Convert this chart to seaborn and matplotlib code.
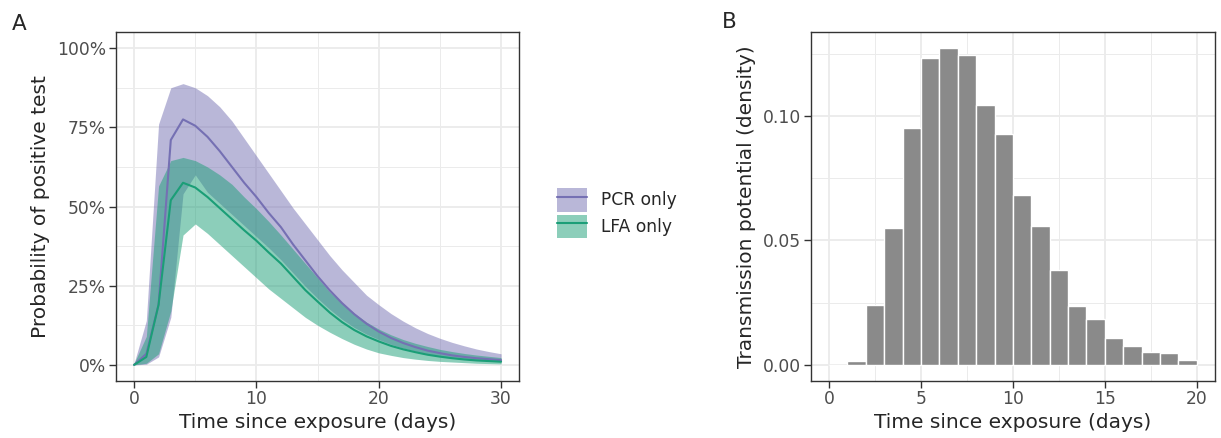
import numpy as np
import pandas as pd
import matplotlib
matplotlib.use("Agg")
import matplotlib.pyplot as plt
import seaborn as sns
from matplotlib.patches import Patch
from matplotlib.lines import Line2D
from matplotlib.ticker import PercentFormatter, FormatStrFormatter

# ---- data ----
days = list(range(31))

# probability of positive test, in %
pcr_med = [0, 3.5, 19, 71, 77.5, 75.5, 72, 67.5, 62.5, 57.5, 53, 48, 43.5, 38, 33, 28,
           23.5, 19.5, 16, 13, 10.5, 8.5, 6.9, 5.6, 4.5, 3.7, 3.0, 2.5, 2.1, 1.8, 1.5]
pcr_lo = [0, 0.2, 2.5, 15, 54, 60, 54.5, 51, 47.5, 44, 40.5, 37, 33.2, 29, 24.8, 21,
          17.5, 14.4, 11.8, 9.7, 8, 6.5, 5.3, 4.3, 3.5, 2.8, 2.3, 1.9, 1.6, 1.3, 1.1]
pcr_hi = [0.5, 14, 76, 87.5, 88.8, 87.5, 85, 81.5, 77, 71.5, 66, 60.5, 55, 49.5, 44.5, 39.5,
          34.5, 30, 26, 22, 19, 16.2, 13.8, 11.7, 9.9, 8.4, 7.1, 6.0, 5.0, 4.2, 3.5]

lfa_med = [0, 2.5, 19, 52, 57.5, 56, 53, 49.5, 46, 42.5, 39.2, 35.5, 32, 27.8, 23.6, 20,
           16.5, 13.5, 11, 9, 7.4, 6, 4.9, 4, 3.2, 2.6, 2.1, 1.7, 1.4, 1.2, 1.0]
lfa_lo = [0, 0.5, 3.5, 17, 41, 44.5, 41.5, 38, 34.5, 31, 27.5, 24, 21, 18, 15, 12.5,
          10.3, 8.3, 6.5, 5, 3.8, 3.0, 2.3, 1.8, 1.4, 1.1, 0.9, 0.7, 0.5, 0.4, 0.3]
lfa_hi = [0.5, 9, 56.5, 64.5, 65.5, 64.5, 62.5, 60, 57, 53, 49.3, 45.3, 41, 36.5, 32, 27.5,
          23, 19.5, 16.3, 13.5, 11.3, 9.5, 8.0, 6.8, 5.8, 4.9, 4.2, 3.6, 3.1, 2.7, 2.3]

tests = ["PCR only", "LFA only"]
colors = {"PCR only": "#7570B3", "LFA only": "#1B9E77"}

# transmission potential histogram
hist_days = list(range(1, 20))
hist_density = [0.0015, 0.024, 0.0549, 0.0953, 0.1234, 0.1272, 0.1245, 0.1046, 0.0926,
                0.0683, 0.0558, 0.0383, 0.0236, 0.0185, 0.0108, 0.0075, 0.005, 0.0047, 0.0018]

df = pd.concat([
    pd.DataFrame({"day": days, "med": pcr_med, "lo": pcr_lo, "hi": pcr_hi, "test": "PCR only"}),
    pd.DataFrame({"day": days, "med": lfa_med, "lo": lfa_lo, "hi": lfa_hi, "test": "LFA only"}),
])
hist_df = pd.DataFrame({"day": hist_days, "density": hist_density})

# ---- style ----
sns.set_style("white")
plt.rcParams["font.family"] = ["DejaVu Sans"]
tick_col = "#4D4D4D"
grid_col = "#EBEBEB"

fig = plt.figure(figsize=(12.21, 4.38), dpi=100)
axA = fig.add_axes([0.0948, 0.1308, 0.3306, 0.7954])
axB = fig.add_axes([0.664, 0.1308, 0.3311, 0.7954])


def style_axis(ax):
    ax.set_axisbelow(True)
    ax.grid(which="major", color=grid_col, lw=1.3)
    ax.grid(which="minor", color=grid_col, lw=0.7)
    for s in ax.spines.values():
        s.set_color("#333333")
        s.set_linewidth(1.0)
    ax.tick_params(which="major", length=5, width=1, color="#333333",
                   labelsize=12.3, labelcolor=tick_col, pad=2, bottom=True, left=True)
    ax.tick_params(which="minor", length=0)


# ---- panel A ----
for t in tests:
    sub = df[df["test"] == t]
    axA.fill_between(sub["day"], sub["lo"], sub["hi"], color=colors[t], alpha=0.5, lw=0)
sns.lineplot(data=df, x="day", y="med", hue="test", palette=colors, ax=axA,
             legend=False, linewidth=1.5)

axA.set_xlim(-1.5, 31.5)
axA.set_ylim(-5, 105)
axA.set_xticks([0, 10, 20, 30])
axA.set_xticks([5, 15, 25], minor=True)
axA.set_yticks([0, 25, 50, 75, 100])
axA.set_yticks([12.5, 37.5, 62.5, 87.5], minor=True)
axA.yaxis.set_major_formatter(PercentFormatter(xmax=100, decimals=0))
style_axis(axA)
axA.set_xlabel("Time since exposure (days)", fontsize=14.5, labelpad=3)
axA.set_ylabel("Probability of positive test", fontsize=14.5, labelpad=5)

# legend
handles = [(Patch(facecolor=colors[t], alpha=0.5, lw=0), Line2D([], [], color=colors[t], lw=1.5))
           for t in tests]
fig.legend(handles, tests, loc="upper left", bbox_to_anchor=(557 / 1221, 1 - 188 / 438),
           frameon=False, fontsize=12.3, handlelength=1.75, handleheight=1.75,
           labelspacing=0.18, handletextpad=0.8, borderpad=0, borderaxespad=0)

# ---- panel B ----
sns.histplot(data=hist_df, x="day", weights="density", binwidth=1, binrange=(0, 20),
             color="#8A8A8A", alpha=1, edgecolor="white", lw=1.0, ax=axB)
axB.set_xlim(-1, 21)
axB.set_ylim(-0.00636, 0.1336)
axB.set_xticks([0, 5, 10, 15, 20])
axB.set_xticks([2.5, 7.5, 12.5, 17.5], minor=True)
axB.set_yticks([0, 0.05, 0.10])
axB.set_yticks([0.025, 0.075, 0.125], minor=True)
axB.yaxis.set_major_formatter(FormatStrFormatter("%.2f"))
style_axis(axB)
axB.set_xlabel("Time since exposure (days)", fontsize=14.5, labelpad=3)
axB.set_ylabel("Transmission potential (density)", fontsize=14.5, labelpad=5)

# panel tags
fig.text(11.5 / 1221, 1 - 29.5 / 438, "A", fontsize=15.5, va="baseline", ha="left")
fig.text(722 / 1221, 1 - 27.5 / 438, "B", fontsize=15.5, va="baseline", ha="left")

fig.savefig("out.png", dpi=100)
